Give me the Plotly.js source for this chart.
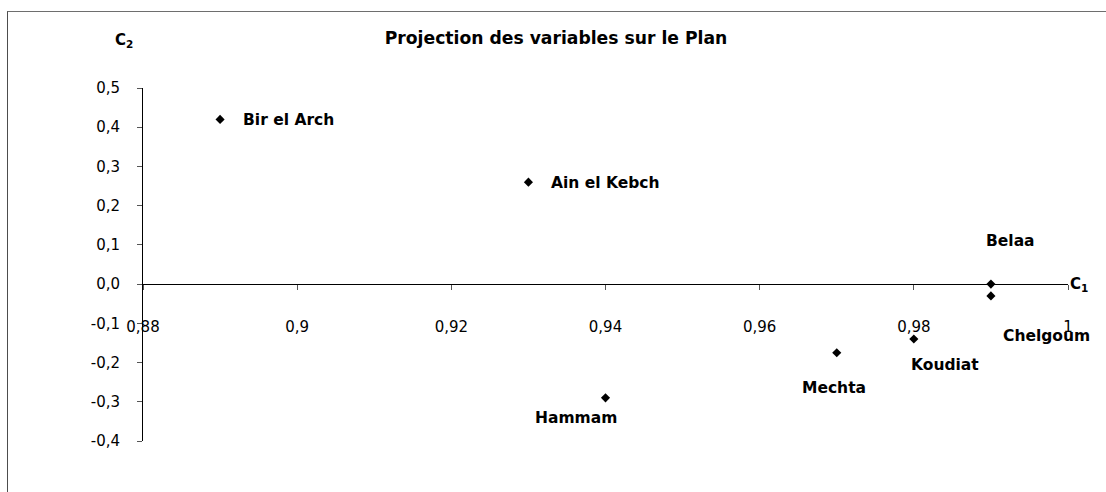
<!DOCTYPE html>
<html>
<head>
<meta charset="utf-8">
<script src="https://cdn.plot.ly/plotly-3.0.1.min.js"></script>
<style>
  html, body { margin: 0; padding: 0; background: #fff; }
  #wrap { position: relative; width: 1106px; height: 492px; overflow: hidden; }
  #chart { position: absolute; left: 0; top: 0; width: 1106px; height: 492px; }
  #frame { position: absolute; left: 7px; top: 11px; width: 1200px; height: 600px;
           border-left: 1px solid #4d4d4d; border-top: 1px solid #6e6e6e; pointer-events: none; }
</style>
</head>
<body>
<div id="wrap">
  <div id="chart"></div>
  <div id="frame"></div>
</div>
<script>
// ---- data ----
const stations = ['Bir el Arch', 'Ain el Kebch', 'Belaa', 'Chelgoum', 'Koudiat', 'Mechta', 'Hammam'];
const c1Values = [0.89, 0.93, 0.99, 0.99, 0.98, 0.97, 0.94];
const c2Values = [0.42, 0.26, 0.00, -0.03, -0.14, -0.175, -0.29];
const xTickVals = [0.88, 0.90, 0.92, 0.94, 0.96, 0.98, 1.00];
const xTickText = ['0,88', '0,9', '0,92', '0,94', '0,96', '0,98', '1'];
const yTickVals = [-0.4, -0.3, -0.2, -0.1, 0.0, 0.1, 0.2, 0.3, 0.4, 0.5];
const yTickText = ['-0,4', '-0,3', '-0,2', '-0,1', '0,0', '0,1', '0,2', '0,3', '0,4', '0,5'];
const chartTitle = 'Projection des variables sur le Plan';

// ---- label placement (pixel offsets, style only) ----
const labelStyle = {
  'Bir el Arch':  {xanchor: 'left',   dx: 21,  dy: -1},
  'Ain el Kebch': {xanchor: 'left',   dx: 21,  dy: -1},
  'Belaa':        {xanchor: 'center', dx: 20,  dy: 43},
  'Chelgoum':     {xanchor: 'center', dx: 56,  dy: -40},
  'Koudiat':      {xanchor: 'center', dx: 31,  dy: -26},
  'Mechta':       {xanchor: 'center', dx: -3,  dy: -35},
  'Hammam':       {xanchor: 'center', dx: -30, dy: -20}
};

const FONT = 'DejaVu Sans, Verdana, Arial, sans-serif';
const xMin = 0.88, xMax = 1.0, yMin = -0.4, yMax = 0.5;

const trace = {
  type: 'scatter',
  mode: 'markers',
  x: c1Values,
  y: c2Values,
  marker: {symbol: 'diamond', size: 7, color: '#000000', line: {width: 0}},
  hoverinfo: 'skip'
};

const annotations = stations.map((name, i) => {
  const st = labelStyle[name];
  return {
    x: c1Values[i], y: c2Values[i], xref: 'x', yref: 'y',
    text: name, showarrow: false,
    xanchor: st.xanchor, yanchor: 'middle',
    xshift: st.dx, yshift: st.dy,
    font: {family: FONT, size: 15.5, color: '#000', weight: 'bold'}
  };
});

annotations.push({
  x: 1, xref: 'paper', y: 0, yref: 'y',
  text: 'C<sub>1</sub>', showarrow: false,
  xanchor: 'left', yanchor: 'middle', xshift: 0, yshift: 0,
  font: {family: FONT, size: 15, color: '#000', weight: 'bold'}
});
annotations.push({
  x: 0, xref: 'paper', y: 1, yref: 'paper',
  text: 'C<sub>2</sub>', showarrow: false,
  xanchor: 'left', yanchor: 'middle', xshift: -30, yshift: 48,
  font: {family: FONT, size: 15, color: '#000', weight: 'bold'}
});

const layout = {
  width: 1106, height: 492,
  margin: {l: 143, r: 38, t: 88, b: 51, pad: 0},
  paper_bgcolor: '#ffffff', plot_bgcolor: '#ffffff',
  showlegend: false,
  font: {family: FONT, size: 15, color: '#000'},
  title: {
    text: chartTitle,
    font: {family: FONT, size: 17.2, color: '#000', weight: 'bold'},
    x: 556 / 1106, xref: 'container', xanchor: 'center',
    y: 1 - 38 / 492, yref: 'container', yanchor: 'middle'
  },
  xaxis: {
    range: [xMin, xMax],
    anchor: 'free',
    position: (0 - yMin) / (yMax - yMin),
    showline: true, linecolor: '#000', linewidth: 1,
    ticks: 'outside', ticklen: 5, tickcolor: '#555', tickwidth: 1,
    tickvals: xTickVals, ticktext: xTickText,
    ticklabelstandoff: 24,
    showgrid: false, zeroline: false,
    tickfont: {family: FONT, size: 15, color: '#000'}
  },
  yaxis: {
    range: [yMin, yMax],
    showline: true, linecolor: '#000', linewidth: 1,
    ticks: 'outside', ticklen: 5, tickcolor: '#555', tickwidth: 1,
    tickvals: yTickVals, ticktext: yTickText,
    ticklabelstandoff: 14,
    showgrid: false, zeroline: false,
    tickfont: {family: FONT, size: 15, color: '#000'}
  },
  annotations: annotations
};

Plotly.newPlot('chart', [trace], layout, {staticPlot: true, displayModeBar: false});
</script>
</body>
</html>
